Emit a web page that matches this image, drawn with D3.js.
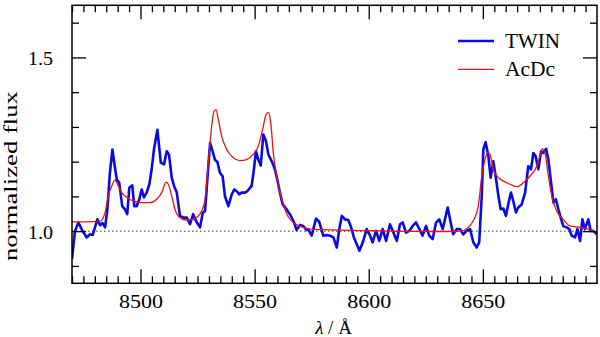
<!DOCTYPE html>
<html><head><meta charset="utf-8">
<script src="https://cdn.jsdelivr.net/npm/d3@7"></script>
<style>body{margin:0;background:#fff} svg{display:block} text{font-family:"Liberation Serif","Times New Roman",Times,"DejaVu Serif",serif;}</style>
</head><body><svg id="c" width="600" height="337"></svg>
<script>
// TWIN observed spectrum
const twinWave=[8470.0,8471.3,8472.8,8474.7,8476.4,8477.9,8479.1,8481.1,8482.3,8483.4,8484.5,8485.5,8486.6,8487.7,8488.5,8489.6,8490.7,8492.0,8493.2,8494.2,8495.1,8496.4,8497.3,8498.3,8499.5,8500.5,8501.5,8502.7,8503.9,8504.9,8505.9,8507.4,8508.9,8510.3,8511.5,8512.5,8513.7,8514.7,8515.9,8517.3,8518.8,8520.3,8521.7,8523.1,8524.3,8525.0,8526.1,8527.3,8528.3,8529.3,8530.5,8531.6,8532.6,8533.7,8534.8,8536.0,8537.0,8538.5,8540.0,8541.1,8542.2,8543.3,8544.3,8545.8,8546.8,8548.0,8548.7,8549.7,8550.6,8551.6,8552.7,8553.8,8555.0,8556.0,8557.5,8558.9,8559.9,8561.1,8562.3,8564.1,8565.8,8567.3,8568.4,8569.9,8571.3,8572.8,8573.5,8575.0,8576.9,8578.3,8580.1,8581.6,8583.0,8584.5,8586.0,8587.1,8588.2,8589.6,8591.0,8592.1,8593.5,8594.7,8595.9,8597.4,8599.1,8600.6,8601.7,8603.2,8604.6,8606.1,8607.6,8609.3,8610.8,8612.3,8613.7,8614.9,8616.3,8617.8,8619.3,8620.7,8622.2,8623.6,8625.1,8626.5,8628.0,8629.5,8630.9,8632.4,8634.6,8635.9,8637.0,8638.5,8640.0,8641.4,8642.9,8644.4,8645.8,8647.3,8648.4,8649.5,8650.2,8651.2,8652.4,8653.4,8654.6,8655.8,8656.8,8657.8,8659.0,8660.1,8661.1,8662.3,8663.3,8664.5,8665.5,8667.0,8668.5,8669.9,8671.1,8672.1,8673.1,8674.3,8675.5,8676.5,8677.7,8678.7,8679.9,8680.9,8682.0,8683.1,8684.1,8685.2,8686.7,8687.9,8688.9,8690.4,8691.4,8692.6,8693.6,8694.7,8696.2,8697.2,8698.4,8699.9];
const twinFlux=[0.92,1.00,1.025,1.00,0.982,0.991,0.989,1.034,1.017,1.023,1.011,1.063,1.168,1.235,1.197,1.149,1.139,1.072,1.063,1.049,1.125,1.132,1.072,1.072,1.092,1.12,1.097,1.111,1.135,1.178,1.235,1.292,1.197,1.192,1.23,1.22,1.154,1.13,1.111,1.044,1.039,1.039,1.02,1.049,1.03,1.022,1.011,1.053,1.058,1.149,1.254,1.23,1.206,1.199,1.168,1.158,1.101,1.072,1.106,1.12,1.115,1.106,1.111,1.111,1.115,1.125,1.13,1.178,1.23,1.206,1.189,1.278,1.259,1.221,1.201,1.178,1.149,1.111,1.077,1.062,1.045,1.025,1.003,1.018,1.015,1.003,1.006,0.987,1.036,1.027,0.987,0.989,0.987,0.982,0.953,1.006,1.044,1.034,1.032,1.015,0.982,0.963,0.944,0.968,1.006,0.987,0.968,1.001,0.972,1.006,0.972,1.02,0.996,0.972,1.02,1.025,0.996,1.001,1.015,1.025,1.006,0.987,1.015,0.987,0.977,1.025,1.034,1.006,1.068,1.025,0.991,1.006,1.006,0.991,1.001,1.006,0.968,0.953,0.968,1.101,1.235,1.256,1.216,1.154,1.201,1.149,1.101,1.063,1.065,1.044,1.077,1.111,1.087,1.054,1.068,1.077,1.111,1.187,1.178,1.225,1.216,1.178,1.23,1.225,1.237,1.206,1.139,1.082,1.092,1.063,1.039,1.015,1.011,1.006,0.987,0.982,1.006,0.972,1.034,1.006,1.034,1.001,1.001,0.991];
// AcDc model spectrum
const acdcWave=[8470.0,8476.0,8482.3,8484.5,8485.9,8487.4,8488.8,8490.3,8491.8,8494.0,8496.9,8499.8,8504.2,8507.1,8509.3,8511.2,8512.2,8513.7,8515.1,8517.3,8520.3,8523.1,8524.6,8526.8,8528.3,8529.7,8531.2,8532.2,8533.1,8534.1,8535.6,8537.8,8540.7,8543.6,8546.5,8549.4,8551.6,8553.5,8555.0,8556.0,8557.1,8558.2,8559.7,8561.9,8564.1,8567.0,8571.3,8574.3,8583.0,8604.9,8634.2,8640.0,8643.6,8645.8,8648.0,8649.5,8650.9,8652.1,8653.1,8654.6,8656.8,8659.0,8661.9,8664.8,8667.7,8670.6,8673.6,8675.0,8676.0,8677.2,8678.7,8680.2,8682.3,8685.2,8688.2,8692.6,8698.4,8700.0];
const acdcFlux=[1.027,1.027,1.028,1.054,1.101,1.13,1.147,1.13,1.111,1.097,1.087,1.082,1.082,1.092,1.111,1.141,1.135,1.101,1.063,1.039,1.032,1.034,1.039,1.058,1.092,1.197,1.302,1.345,1.35,1.321,1.273,1.235,1.211,1.203,1.206,1.221,1.244,1.292,1.335,1.342,1.311,1.225,1.158,1.092,1.049,1.025,1.011,1.006,1.004,1.001,0.999,1.0,1.011,1.03,1.072,1.158,1.206,1.227,1.221,1.178,1.154,1.144,1.135,1.128,1.139,1.158,1.187,1.216,1.237,1.225,1.158,1.101,1.058,1.034,1.015,1.011,1.001,0.996];
const xMajorTicks=[8500,8550,8600,8650];
const xMinorTicks=d3.range(8470,8701,5).filter(v=>v%50!==0);
const yMajorTicks=[1.0,1.5];
const yMinorTicks=[0.9,1.1,1.2,1.3,1.4,1.6];
const xDomain=[8470,8700], yDomain=[0.85,1.65];
const seriesNames=["TWIN","AcDc"];

const svg=d3.select("#c");
const L=72,R=597,T=5.3,B=283.3;
const x=d3.scaleLinear().domain(xDomain).range([L,R]);
const y=d3.scaleLinear().domain(yDomain).range([B,T]);
const font='"Liberation Serif","Times New Roman",Times,"DejaVu Serif",serif';

svg.append("clipPath").attr("id","clip").append("rect")
  .attr("x",L).attr("y",T).attr("width",R-L).attr("height",B-T);
const plot=svg.append("g").attr("clip-path","url(#clip)");

plot.append("line").attr("x1",x(xDomain[0])).attr("x2",x(xDomain[1]))
  .attr("y1",y(1)).attr("y2",y(1))
  .attr("stroke","#777").attr("stroke-width",1.4).attr("stroke-dasharray","1.5,2.5");

const twin=twinWave.map((w,i)=>[w,twinFlux[i]]);
const acdc=acdcWave.map((w,i)=>[w,acdcFlux[i]]);
plot.append("path").datum(twin)
  .attr("d",d3.line().x(d=>x(d[0])).y(d=>y(d[1])))
  .attr("fill","none").attr("stroke","#0a0ae6").attr("stroke-width",2.6).attr("stroke-linejoin","round");
plot.append("path").datum(acdc)
  .attr("d",d3.line().x(d=>x(d[0])).y(d=>y(d[1])).curve(d3.curveMonotoneX))
  .attr("fill","none").attr("stroke","#ee1111").attr("stroke-width",1.3);

function styleAxis(g){
  g.attr("font-family",null).attr("font-size",null);
  g.select(".domain").remove();
  g.selectAll("line").attr("stroke","#000").attr("stroke-width",1.3);
}
// bottom
svg.append("g").attr("transform",`translate(0,${B})`)
  .call(d3.axisBottom(x).tickValues(xMinorTicks).tickSize(-7).tickFormat("")).call(styleAxis);
const xb=svg.append("g").attr("transform",`translate(0,${B})`)
  .call(d3.axisBottom(x).tickValues(xMajorTicks).tickSize(-14).tickPadding(12).tickFormat(d3.format("d"))).call(styleAxis);
xb.selectAll("text").style("font-family",font).attr("font-size",18).attr("fill","#000")
  .attr("textLength",44).attr("lengthAdjust","spacingAndGlyphs");
// top
svg.append("g").attr("transform",`translate(0,${T})`)
  .call(d3.axisTop(x).tickValues(xMinorTicks).tickSize(-7).tickFormat("")).call(styleAxis);
svg.append("g").attr("transform",`translate(0,${T})`)
  .call(d3.axisTop(x).tickValues(xMajorTicks).tickSize(-14).tickFormat("")).call(styleAxis);
// left
svg.append("g").attr("transform",`translate(${L},0)`)
  .call(d3.axisLeft(y).tickValues(yMinorTicks).tickSize(-7).tickFormat("")).call(styleAxis);
const yl=svg.append("g").attr("transform",`translate(${L},0)`)
  .call(d3.axisLeft(y).tickValues(yMajorTicks).tickSize(-14).tickPadding(19).tickFormat(d3.format(".1f"))).call(styleAxis);
yl.selectAll("text").style("font-family",font).attr("font-size",18).attr("fill","#000").attr("dy","0.4em")
  .attr("textLength",25).attr("lengthAdjust","spacingAndGlyphs");
// right
svg.append("g").attr("transform",`translate(${R},0)`)
  .call(d3.axisRight(y).tickValues(yMinorTicks).tickSize(-7).tickFormat("")).call(styleAxis);
svg.append("g").attr("transform",`translate(${R},0)`)
  .call(d3.axisRight(y).tickValues(yMajorTicks).tickSize(-14).tickFormat("")).call(styleAxis);

svg.append("rect").attr("x",L).attr("y",T).attr("width",R-L).attr("height",B-T)
  .attr("fill","none").attr("stroke","#000").attr("stroke-width",1.5);

// axis labels
const xl=svg.append("text").attr("x",(L+R)/2-1).attr("y",333.5).attr("text-anchor","middle")
  .style("font-family",font).attr("font-size",19).attr("fill","#000");
xl.append("tspan").attr("font-style","italic").text("λ");
xl.append("tspan").text(" / Å");
svg.append("text").attr("transform","translate(16.5,176) rotate(-90)").attr("text-anchor","middle")
  .style("font-family",font).attr("font-size",19).attr("fill","#000")
  .attr("textLength",170).attr("lengthAdjust","spacingAndGlyphs").text("normalized flux");

// legend
const leg=svg.append("g");
const legColors=["#0a0ae6","#ee1111"], legWidths=[2.6,1.3], legY=[41,69.3];
seriesNames.forEach((n,i)=>{
  leg.append("line").attr("x1",458).attr("x2",494).attr("y1",legY[i]).attr("y2",legY[i])
    .attr("stroke",legColors[i]).attr("stroke-width",legWidths[i]);
  leg.append("text").attr("x",505).attr("y",legY[i]+6.5).style("font-family",font).attr("font-size",20)
    .attr("fill","#000").attr("textLength",i===0?55:50).attr("lengthAdjust","spacingAndGlyphs").text(n);
});
</script></body></html>
